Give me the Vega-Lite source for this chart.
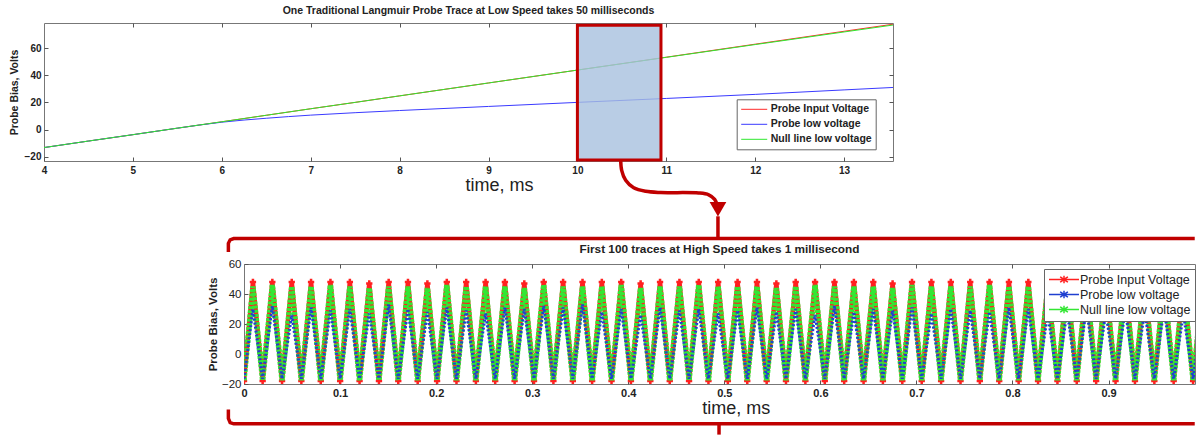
{
"$schema": "https://vega.github.io/schema/vega-lite/v6.json",
"padding": {"left": 8, "top": 5, "right": 0, "bottom": 0},
"background": "white",
"config": {
 "font": "Liberation Sans",
 "view": {"stroke": "#777", "strokeWidth": 1},
 "axis": {"grid": false, "domain": false, "labelOverlap": false, "labelFlush": false, "tickColor": "#555", "tickWidth": 1, "labelColor": "#222", "titleColor": "#222", "labelFont": "Liberation Sans", "titleFont": "Liberation Sans"},
 "title": {"font": "Liberation Sans", "fontWeight": "bold", "color": "#222", "anchor": "middle"},
 "legend": {"labelFont": "Liberation Sans", "labelColor": "#222"}
},
"spacing": 103,
"bounds": "flush",
"resolve": {"scale": {"color": "independent"}, "legend": {"color": "independent"}},
"vconcat": [
 {
  "width": 849, "height": 138,
  "title": {"text": "One Traditional Langmuir Probe Trace at Low Speed takes 50 milliseconds", "fontSize": 10.5, "offset": 6},
  "data": {"values": [
   {"t": 4, "inp": -13.3, "low": -13.3, "nul": -13.3},
   {"t": 4.5, "inp": -8.5, "low": -8.5, "nul": -8.5},
   {"t": 5, "inp": -3.8, "low": -3.8, "nul": -3.8},
   {"t": 5.5, "inp": 1.0, "low": 1.0, "nul": 1.0},
   {"t": 6, "inp": 5.7, "low": 5.4, "nul": 5.7},
   {"t": 6.5, "inp": 10.5, "low": 8.3, "nul": 10.5},
   {"t": 7, "inp": 15.3, "low": 10.6, "nul": 15.3},
   {"t": 7.5, "inp": 20.0, "low": 12.4, "nul": 20.0},
   {"t": 8, "inp": 24.8, "low": 14.0, "nul": 24.8},
   {"t": 9, "inp": 34.3, "low": 17.0, "nul": 34.3},
   {"t": 10, "inp": 43.8, "low": 20.0, "nul": 43.8},
   {"t": 11, "inp": 53.3, "low": 22.9, "nul": 53.2},
   {"t": 12, "inp": 62.9, "low": 25.9, "nul": 62.6},
   {"t": 13, "inp": 72.4, "low": 29.2, "nul": 71.9},
   {"t": 13.55, "inp": 77.6, "low": 31.0, "nul": 77.0}
  ]},
  "resolve": {"axis": {"x": "independent", "y": "independent"}},
  "layer": [
   {"mark": {"type": "line", "strokeWidth": 1, "clip": true},
    "encoding": {
     "x": {"field": "t", "type": "quantitative", "scale": {"domain": [4, 13.55], "nice": false, "zero": false},
      "axis": {"orient": "bottom", "values": [4,5,6,7,8,9,10,11,12,13], "labelFontSize": 10, "labelFontWeight": "bold", "tickSize": -4, "labelPadding": 8, "title": "time, ms", "titleFontSize": 18, "titleFontWeight": "normal", "titleX": 455, "titleY": 29, "titleBaseline": "alphabetic", "titleAlign": "center"}},
     "y": {"field": "inp", "type": "quantitative", "scale": {"domain": [-23.2, 78.5], "nice": false, "zero": false},
      "axis": {"orient": "left", "values": [-20,0,20,40,60], "labelFontSize": 10, "labelFontWeight": "bold", "tickSize": -4, "labelPadding": 7, "title": "Probe Bias, Volts", "titleFontSize": 10.5, "titleFontWeight": "bold", "titleX": -30, "titleY": 69, "titleBaseline": "middle", "titleAlign": "center", "titleAngle": -90}},
     "color": {"datum": "Probe Input Voltage", "scale": {"domain": ["Probe Input Voltage", "Probe low voltage", "Null line low voltage"], "range": ["#ff2a2a", "#3a3aff", "#2ee82e"]},
      "legend": {"orient": "none", "legendX": 692.7, "legendY": 76.3, "title": null, "symbolType": "M-1,0H3.73", "symbolSize": 121, "symbolStrokeWidth": 1, "labelFontSize": 10.5, "labelFontWeight": "bold", "padding": 4, "rowPadding": 3, "strokeColor": "#666", "fillColor": "white", "labelOffset": 18}}
    }},
   {"mark": {"type": "line", "strokeWidth": 1, "interpolate": "monotone", "clip": true},
    "encoding": {
     "x": {"field": "t", "type": "quantitative", "scale": {"domain": [4, 13.55], "nice": false, "zero": false}, "axis": null},
     "y": {"field": "low", "type": "quantitative", "scale": {"domain": [-23.2, 78.5], "nice": false, "zero": false}, "axis": null},
     "color": {"datum": "Probe low voltage", "scale": {"domain": ["Probe Input Voltage", "Probe low voltage", "Null line low voltage"], "range": ["#ff2a2a", "#3a3aff", "#2ee82e"]}}
    }},
   {"mark": {"type": "line", "strokeWidth": 1, "clip": true},
    "encoding": {
     "x": {"field": "t", "type": "quantitative", "scale": {"domain": [4, 13.55], "nice": false, "zero": false}, "axis": null},
     "y": {"field": "nul", "type": "quantitative", "scale": {"domain": [-23.2, 78.5], "nice": false, "zero": false}, "axis": null},
     "color": {"datum": "Null line low voltage", "scale": {"domain": ["Probe Input Voltage", "Probe low voltage", "Null line low voltage"], "range": ["#ff2a2a", "#3a3aff", "#2ee82e"]}}
    }},
   {"data": {"values": [{"x1": 10, "x2": 10.94, "y1": -22.4, "y2": 76.8}]},
    "mark": {"type": "rect", "fill": "#a7c0de", "fillOpacity": 0.8, "stroke": "#c00000", "strokeWidth": 3},
    "encoding": {
     "x": {"field": "x1", "type": "quantitative", "scale": {"domain": [4, 13.55], "nice": false, "zero": false},
      "axis": {"orient": "top", "values": [5,6,7,8,9,10,11,12,13], "labels": false, "title": null, "tickSize": -4}},
     "x2": {"field": "x2"},
     "y": {"field": "y1", "type": "quantitative", "scale": {"domain": [-23.2, 78.5], "nice": false, "zero": false},
      "axis": {"orient": "right", "values": [-20,0,20,40,60], "labels": false, "title": null, "tickSize": -4}},
     "y2": {"field": "y2"}
    }},
   {"data": {"values": [
     {"seg": "top", "o": 1, "t": 6.074, "v": -90.27},
     {"seg": "top", "o": 2, "t": 6.074, "v": -83.85},
     {"seg": "top", "o": 3, "t": 6.094, "v": -81.28},
     {"seg": "top", "o": 4, "t": 6.134, "v": -80.39},
     {"seg": "top", "o": 5, "t": 16.944, "v": -80.39},
     {"seg": "bot", "o": 1, "t": 6.074, "v": -206.41},
     {"seg": "bot", "o": 2, "t": 6.074, "v": -212.83},
     {"seg": "bot", "o": 3, "t": 6.094, "v": -215.99},
     {"seg": "bot", "o": 4, "t": 6.134, "v": -216.88},
     {"seg": "bot", "o": 5, "t": 16.944, "v": -216.88},
     {"seg": "stem", "o": 1, "t": 11.581, "v": -63.96},
     {"seg": "stem", "o": 2, "t": 11.581, "v": -80.39},
     {"seg": "notch", "o": 1, "t": 11.593, "v": -216.88},
     {"seg": "notch", "o": 2, "t": 11.593, "v": -224.84}
    ]},
    "mark": {"type": "line", "color": "#c00000", "strokeWidth": 3.5, "clip": false},
    "encoding": {
     "x": {"field": "t", "type": "quantitative", "scale": {"domain": [4, 13.55], "nice": false, "zero": false}, "axis": null},
     "y": {"field": "v", "type": "quantitative", "scale": {"domain": [-23.2, 78.5], "nice": false, "zero": false}, "axis": null},
     "detail": {"field": "seg"},
     "order": {"field": "o"}
    }},
   {"data": {"values": [
     {"o": 1, "t": 10.487, "v": -22.69},
     {"o": 2, "t": 10.498, "v": -30.06},
     {"o": 3, "t": 10.543, "v": -37.43},
     {"o": 4, "t": 10.633, "v": -42.95},
     {"o": 5, "t": 10.768, "v": -45.53},
     {"o": 6, "t": 10.937, "v": -46.42},
     {"o": 7, "t": 11.364, "v": -46.78},
     {"o": 8, "t": 11.477, "v": -48.11},
     {"o": 9, "t": 11.544, "v": -51.43},
     {"o": 10, "t": 11.573, "v": -55.85}
    ]},
    "mark": {"type": "line", "interpolate": "catmull-rom", "color": "#c00000", "strokeWidth": 3.5, "clip": false},
    "encoding": {
     "x": {"field": "t", "type": "quantitative", "scale": {"domain": [4, 13.55], "nice": false, "zero": false}, "axis": null},
     "y": {"field": "v", "type": "quantitative", "scale": {"domain": [-23.2, 78.5], "nice": false, "zero": false}, "axis": null},
     "order": {"field": "o"}
    }},
   {"data": {"values": [{"t": 11.581, "v": -58.8}]},
    "mark": {"type": "point", "shape": "triangle-down", "filled": true, "size": 280, "color": "#c00000", "opacity": 1, "clip": false},
    "encoding": {
     "x": {"field": "t", "type": "quantitative", "scale": {"domain": [4, 13.55], "nice": false, "zero": false}, "axis": null},
     "y": {"field": "v", "type": "quantitative", "scale": {"domain": [-23.2, 78.5], "nice": false, "zero": false}, "axis": null}
    }}
  ]
 },
 {
  "spacing": 0,
  "bounds": "flush",
  "resolve": {"scale": {"color": "independent"}, "legend": {"color": "independent"}},
  "hconcat": [
   {"width": 200, "height": 120, "data": {"values": []}, "mark": {"type": "point", "opacity": 0}, "view": {"stroke": null}},
   {
    "width": 951, "height": 120,
    "title": {"text": "First 100 traces at High Speed takes 1 millisecond", "fontSize": 11.8, "offset": 2},
    "data": {"values": [
     {"t":0,"inp":-18,"low":-16.5,"nul":-17.5},
     {"t":0.0093,"inp":48,"low":30,"nul":45},
     {"t":0.0194,"inp":-18,"low":-16.5,"nul":-17.5},
     {"t":0.0295,"inp":48,"low":32,"nul":46},
     {"t":0.0396,"inp":-18,"low":-16.5,"nul":-17.5},
     {"t":0.0497,"inp":48,"low":26,"nul":45},
     {"t":0.0597,"inp":-18,"low":-16.5,"nul":-17.5},
     {"t":0.0698,"inp":48,"low":31,"nul":45},
     {"t":0.0799,"inp":-18,"low":-16.5,"nul":-17.5},
     {"t":0.0900,"inp":48,"low":29,"nul":46},
     {"t":0.1001,"inp":-18,"low":-16.5,"nul":-17.5},
     {"t":0.1102,"inp":48,"low":30,"nul":45},
     {"t":0.1203,"inp":-18,"low":-16.5,"nul":-17.5},
     {"t":0.1304,"inp":47,"low":27,"nul":44},
     {"t":0.1405,"inp":-18,"low":-16.5,"nul":-17.5},
     {"t":0.1506,"inp":48,"low":33,"nul":45},
     {"t":0.1606,"inp":-18,"low":-16.5,"nul":-17.5},
     {"t":0.1707,"inp":48,"low":30,"nul":45},
     {"t":0.1808,"inp":-18,"low":-16.5,"nul":-17.5},
     {"t":0.1909,"inp":47,"low":28,"nul":44},
     {"t":0.2010,"inp":-18,"low":-16.5,"nul":-17.5},
     {"t":0.2111,"inp":48,"low":31,"nul":46},
     {"t":0.2212,"inp":-18,"low":-16.5,"nul":-17.5},
     {"t":0.2313,"inp":48,"low":29,"nul":45},
     {"t":0.2414,"inp":-18,"low":-16.5,"nul":-17.5},
     {"t":0.2515,"inp":48,"low":27,"nul":45},
     {"t":0.2615,"inp":-18,"low":-16.5,"nul":-17.5},
     {"t":0.2716,"inp":48,"low":31,"nul":45},
     {"t":0.2817,"inp":-18,"low":-16.5,"nul":-17.5},
     {"t":0.2918,"inp":47,"low":30,"nul":44},
     {"t":0.3019,"inp":-18,"low":-16.5,"nul":-17.5},
     {"t":0.3120,"inp":48,"low":32,"nul":46},
     {"t":0.3221,"inp":-18,"low":-16.5,"nul":-17.5},
     {"t":0.3322,"inp":48,"low":31,"nul":45},
     {"t":0.3423,"inp":-18,"low":-16.5,"nul":-17.5},
     {"t":0.3524,"inp":48,"low":33,"nul":45},
     {"t":0.3624,"inp":-18,"low":-16.5,"nul":-17.5},
     {"t":0.3725,"inp":48,"low":28,"nul":45},
     {"t":0.3826,"inp":-18,"low":-16.5,"nul":-17.5},
     {"t":0.3927,"inp":48,"low":30,"nul":46},
     {"t":0.4028,"inp":-18,"low":-16.5,"nul":-17.5},
     {"t":0.4129,"inp":47,"low":26,"nul":44},
     {"t":0.4230,"inp":-18,"low":-16.5,"nul":-17.5},
     {"t":0.4331,"inp":48,"low":31,"nul":45},
     {"t":0.4432,"inp":-18,"low":-16.5,"nul":-17.5},
     {"t":0.4533,"inp":48,"low":29,"nul":45},
     {"t":0.4633,"inp":-18,"low":-16.5,"nul":-17.5},
     {"t":0.4734,"inp":48,"low":30,"nul":46},
     {"t":0.4835,"inp":-18,"low":-16.5,"nul":-17.5},
     {"t":0.4936,"inp":48,"low":27,"nul":45},
     {"t":0.5037,"inp":-18,"low":-16.5,"nul":-17.5},
     {"t":0.5138,"inp":48,"low":29,"nul":45},
     {"t":0.5239,"inp":-18,"low":-16.5,"nul":-17.5},
     {"t":0.5340,"inp":48,"low":31,"nul":45},
     {"t":0.5441,"inp":-18,"low":-16.5,"nul":-17.5},
     {"t":0.5542,"inp":47,"low":28,"nul":44},
     {"t":0.5642,"inp":-18,"low":-16.5,"nul":-17.5},
     {"t":0.5743,"inp":48,"low":30,"nul":45},
     {"t":0.5844,"inp":-18,"low":-16.5,"nul":-17.5},
     {"t":0.5945,"inp":48,"low":26,"nul":46},
     {"t":0.6046,"inp":-18,"low":-16.5,"nul":-17.5},
     {"t":0.6147,"inp":48,"low":32,"nul":45},
     {"t":0.6248,"inp":-18,"low":-16.5,"nul":-17.5},
     {"t":0.6349,"inp":48,"low":28,"nul":45},
     {"t":0.6450,"inp":-18,"low":-16.5,"nul":-17.5},
     {"t":0.6551,"inp":48,"low":30,"nul":45},
     {"t":0.6651,"inp":-18,"low":-16.5,"nul":-17.5},
     {"t":0.6752,"inp":47,"low":29,"nul":44},
     {"t":0.6853,"inp":-18,"low":-16.5,"nul":-17.5},
     {"t":0.6954,"inp":48,"low":31,"nul":46},
     {"t":0.7055,"inp":-18,"low":-16.5,"nul":-17.5},
     {"t":0.7156,"inp":48,"low":27,"nul":45},
     {"t":0.7257,"inp":-18,"low":-16.5,"nul":-17.5},
     {"t":0.7358,"inp":48,"low":30,"nul":45},
     {"t":0.7459,"inp":-18,"low":-16.5,"nul":-17.5},
     {"t":0.7560,"inp":48,"low":29,"nul":45},
     {"t":0.7660,"inp":-18,"low":-16.5,"nul":-17.5},
     {"t":0.7761,"inp":48,"low":28,"nul":46},
     {"t":0.7862,"inp":-18,"low":-16.5,"nul":-17.5},
     {"t":0.7963,"inp":48,"low":31,"nul":45},
     {"t":0.8064,"inp":-18,"low":-16.5,"nul":-17.5},
     {"t":0.8165,"inp":48,"low":30,"nul":45},
     {"t":0.8266,"inp":-18,"low":-16.5,"nul":-17.5},
     {"t":0.8367,"inp":47,"low":27,"nul":44},
     {"t":0.8468,"inp":-18,"low":-16.5,"nul":-17.5},
     {"t":0.8569,"inp":48,"low":29,"nul":45},
     {"t":0.8669,"inp":-18,"low":-16.5,"nul":-17.5},
     {"t":0.8770,"inp":48,"low":31,"nul":46},
     {"t":0.8871,"inp":-18,"low":-16.5,"nul":-17.5},
     {"t":0.8972,"inp":48,"low":28,"nul":45},
     {"t":0.9073,"inp":-18,"low":-16.5,"nul":-17.5},
     {"t":0.9174,"inp":48,"low":30,"nul":45},
     {"t":0.9275,"inp":-18,"low":-16.5,"nul":-17.5},
     {"t":0.9376,"inp":48,"low":29,"nul":45},
     {"t":0.9477,"inp":-18,"low":-16.5,"nul":-17.5},
     {"t":0.9578,"inp":48,"low":31,"nul":46},
     {"t":0.9678,"inp":-18,"low":-16.5,"nul":-17.5},
     {"t":0.9779,"inp":48,"low":27,"nul":45},
     {"t":0.9880,"inp":-18,"low":-16.5,"nul":-17.5},
     {"t":0.9981,"inp":48,"low":30,"nul":45}
    ]},
    "resolve": {"axis": {"x": "independent", "y": "independent"}},
    "layer": [
     {"mark": {"type": "line", "strokeWidth": 4.5, "clip": true},
      "encoding": {
       "x": {"field": "t", "type": "quantitative", "scale": {"domain": [0, 0.99], "nice": false, "zero": false},
        "axis": {"orient": "bottom", "values": [0,0.1,0.2,0.3,0.4,0.5,0.6,0.7,0.8,0.9], "format": "~g", "labelFontSize": 11, "labelFontWeight": "bold", "tickSize": -4, "labelPadding": 7, "title": "time, ms", "titleFontSize": 18, "titleFontWeight": "normal", "titleX": 491.7, "titleY": 29, "titleBaseline": "alphabetic", "titleAlign": "center"}},
       "y": {"field": "inp", "type": "quantitative", "scale": {"domain": [-20, 60], "nice": false, "zero": false},
        "axis": {"orient": "left", "values": [-20,0,20,40,60], "labelFontSize": 11.5, "labelFontWeight": "normal", "tickSize": -4, "labelPadding": 7, "title": "Probe Bias, Volts", "titleFontSize": 11.5, "titleFontWeight": "bold", "titleX": -30.6, "titleY": 60, "titleBaseline": "middle", "titleAlign": "center", "titleAngle": -90}},
       "color": {"datum": "Probe Input Voltage", "scale": {"domain": ["Probe Input Voltage", "Probe low voltage", "Null line low voltage"], "range": ["#ff2020", "#1f3fd0", "#33e633"]},
        "legend": {"orient": "none", "legendX": 800, "legendY": 5, "title": null, "symbolType": "M-1,0H4.45M1.73,-0.7V0.7M1.03,-0.5L2.43,0.5M1.03,0.5L2.43,-0.5", "symbolSize": 121, "labelFontSize": 12.5, "labelFontWeight": "normal", "padding": 4, "rowPadding": 0, "strokeColor": "#666", "fillColor": "white", "labelOffset": 19,
         "encode": {"symbols": {"update": {"strokeWidth": {"value": 1.5}, "strokeDash": {"value": [1, 0]}, "fill": {"value": "transparent"}}}}}}
      }},
     {"mark": {"type": "point", "shape": "cross", "filled": true, "size": 40, "color": "#ff2020", "opacity": 1, "clip": true},
      "encoding": {
       "x": {"field": "t", "type": "quantitative", "scale": {"domain": [0, 0.99], "nice": false, "zero": false}, "axis": null},
       "y": {"field": "inp", "type": "quantitative", "scale": {"domain": [-20, 60], "nice": false, "zero": false}, "axis": null}
      }},
     {"mark": {"type": "line", "strokeWidth": 5.5, "strokeDash": [3, 1.2], "clip": true},
      "encoding": {
       "x": {"field": "t", "type": "quantitative", "scale": {"domain": [0, 0.99], "nice": false, "zero": false}, "axis": null},
       "y": {"field": "nul", "type": "quantitative", "scale": {"domain": [-20, 60], "nice": false, "zero": false}, "axis": null},
       "color": {"datum": "Null line low voltage", "scale": {"domain": ["Probe Input Voltage", "Probe low voltage", "Null line low voltage"], "range": ["#ff2020", "#1f3fd0", "#33e633"]}}
      }},
     {"mark": {"type": "line", "strokeWidth": 3, "strokeDash": [2, 2], "clip": true},
      "encoding": {
       "x": {"field": "t", "type": "quantitative", "scale": {"domain": [0, 0.99], "nice": false, "zero": false},
        "axis": {"orient": "top", "values": [0.1,0.2,0.3,0.4,0.5,0.6,0.7,0.8,0.9], "labels": false, "title": null, "tickSize": -4}},
       "y": {"field": "low", "type": "quantitative", "scale": {"domain": [-20, 60], "nice": false, "zero": false}, "axis": null},
       "color": {"datum": "Probe low voltage", "scale": {"domain": ["Probe Input Voltage", "Probe low voltage", "Null line low voltage"], "range": ["#ff2020", "#1f3fd0", "#33e633"]}}
      }}
    ]
   }
  ]
 }
]
}
